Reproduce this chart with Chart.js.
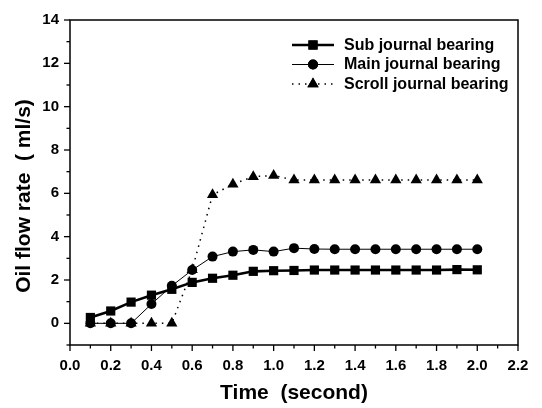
<!DOCTYPE html>
<html>
<head>
<meta charset="utf-8">
<script src="https://cdn.jsdelivr.net/npm/chart.js@4.4.0/dist/chart.umd.min.js"></script>
<style>
  html, body { margin: 0; padding: 0; background: #fff; }
  #wrap { width: 542px; height: 408px; position: relative; }
</style>
</head>
<body>
<div id="wrap"><canvas id="flowChart" width="542" height="408"></canvas></div>
<script>
/* ===== DATA ===== */
const timeValues = [0.1, 0.2, 0.3, 0.4, 0.5, 0.6, 0.7, 0.8, 0.9, 1.0, 1.1, 1.2, 1.3, 1.4, 1.5, 1.6, 1.7, 1.8, 1.9, 2.0];
const subBearing = [0.27, 0.57, 0.98, 1.30, 1.57, 1.89, 2.08, 2.22, 2.40, 2.43, 2.44, 2.46, 2.46, 2.46, 2.46, 2.46, 2.46, 2.46, 2.48, 2.47];
const mainBearing = [0, 0, 0, 0.89, 1.73, 2.46, 3.08, 3.31, 3.39, 3.31, 3.47, 3.43, 3.42, 3.42, 3.42, 3.42, 3.42, 3.42, 3.42, 3.42];
const scrollBearing = [0, 0, 0, 0, 0, 2.47, 5.93, 6.42, 6.77, 6.82, 6.62, 6.62, 6.62, 6.62, 6.62, 6.62, 6.62, 6.62, 6.62, 6.62];
const seriesNames = ['Sub journal bearing', 'Main journal bearing', 'Scroll journal bearing'];
const xTickLabels = ['0.0', '0.2', '0.4', '0.6', '0.8', '1.0', '1.2', '1.4', '1.6', '1.8', '2.0', '2.2'];
const yTickLabels = ['0', '2', '4', '6', '8', '10', '12', '14'];
const xTitle = 'Time  (second)';
const yTitle = 'Oil flow rate  ( ml/s)';

const FONT = '"Liberation Sans", Arial, sans-serif';

function toPoints(ys) {
    return timeValues.map((t, i) => ({ x: t, y: ys[i] }));
}

/* ===== PLUGIN: frame, ticks, titles, legend ===== */
const framePlugin = {
    id: 'frame',
    afterDraw(chart) {
        const ctx = chart.ctx;
        const a = chart.chartArea;
        const xs = chart.scales.x;
        const ys = chart.scales.y;
        ctx.save();
        ctx.strokeStyle = '#000';
        ctx.lineWidth = 1.5;
        ctx.strokeRect(a.left, a.top, a.right - a.left, a.bottom - a.top);

        // x ticks (outside, below)
        ctx.lineWidth = 1.3;
        for (let i = 0; i <= 22; i++) {
            const px = xs.getPixelForValue(i / 10);
            const len = i % 2 === 0 ? 6 : 3.5;
            ctx.beginPath();
            ctx.moveTo(px, a.bottom);
            ctx.lineTo(px, a.bottom + len);
            ctx.stroke();
        }
        // y ticks (outside, left)
        for (let v = -1; v <= 14; v++) {
            const py = ys.getPixelForValue(v);
            const len = v % 2 === 0 ? 6 : 3.5;
            ctx.beginPath();
            ctx.moveTo(a.left, py);
            ctx.lineTo(a.left - len, py);
            ctx.stroke();
        }

        // axis titles
        ctx.fillStyle = '#000';
        ctx.font = 'bold 21px ' + FONT;
        ctx.textAlign = 'center';
        ctx.textBaseline = 'middle';
        ctx.fillText(xTitle, (a.left + a.right) / 2, 393);
        ctx.save();
        ctx.translate(24, 196);
        ctx.rotate(-Math.PI / 2);
        ctx.fillText(yTitle, 0, 0);
        ctx.restore();

        // legend
        const lx = 292;
        const lw = 42;
        const ly0 = 45;
        ctx.font = 'bold 16px ' + FONT;
        ctx.textAlign = 'left';
        ctx.textBaseline = 'middle';
        chart.data.datasets.forEach((ds, i) => {
            const y = ly0 + i * 19.5;
            ctx.save();
            ctx.strokeStyle = '#000';
            ctx.lineWidth = ds.borderWidth;
            ctx.setLineDash(ds.borderDash || []);
            ctx.beginPath();
            ctx.moveTo(lx, y);
            ctx.lineTo(lx + lw, y);
            ctx.stroke();
            ctx.restore();
            ctx.fillStyle = '#000';
            Chart.helpers.drawPoint(ctx, {
                pointStyle: ds.pointStyle,
                radius: ds.pointRadius,
                rotation: 0,
                borderWidth: 0
            }, lx + lw / 2, y);
            ctx.fill();
            ctx.fillText(ds.label, lx + lw + 10, y + 0.5);
        });
        ctx.restore();
    }
};

/* ===== CHART ===== */
document.addEventListener('DOMContentLoaded', function() {
    const ctx = document.getElementById('flowChart');
    new Chart(ctx.getContext('2d'), {
        type: 'line',
        data: {
            datasets: [
                {
                    label: seriesNames[0],
                    data: toPoints(subBearing),
                    borderColor: '#000',
                    backgroundColor: '#000',
                    borderWidth: 2.6,
                    pointStyle: 'rect',
                    pointRadius: 6.5,
                    pointBorderWidth: 0,
                    tension: 0
                },
                {
                    label: seriesNames[1],
                    data: toPoints(mainBearing),
                    borderColor: '#000',
                    backgroundColor: '#000',
                    borderWidth: 1,
                    pointStyle: 'circle',
                    pointRadius: 5,
                    pointBorderWidth: 0,
                    tension: 0
                },
                {
                    label: seriesNames[2],
                    data: toPoints(scrollBearing),
                    borderColor: '#000',
                    backgroundColor: '#000',
                    borderWidth: 1.5,
                    borderDash: [1.5, 5],
                    pointStyle: 'triangle',
                    pointRadius: 6.5,
                    pointBorderWidth: 0,
                    tension: 0
                }
            ]
        },
        options: {
            responsive: false,
            animation: false,
            layout: { padding: { top: 17, right: 24, left: 0, bottom: 0 } },
            plugins: {
                legend: { display: false },
                tooltip: { enabled: false }
            },
            scales: {
                x: {
                    type: 'linear',
                    min: 0,
                    max: 2.2,
                    afterFit(scale) { scale.height = 63; },
                    afterBuildTicks(scale) {
                        scale.ticks = xTickLabels.map(l => ({ value: parseFloat(l) }));
                    },
                    grid: { display: false, drawTicks: false },
                    border: { display: false },
                    ticks: {
                        padding: 12,
                        color: '#000',
                        font: { family: FONT, size: 15, weight: 'bold' },
                        maxRotation: 0,
                        callback: v => xTickLabels.find(l => Math.abs(parseFloat(l) - v) < 1e-6) || ''
                    }
                },
                y: {
                    type: 'linear',
                    min: -1,
                    max: 14,
                    afterFit(scale) { scale.width = 70; },
                    afterBuildTicks(scale) {
                        scale.ticks = yTickLabels.map(l => ({ value: parseFloat(l) }));
                    },
                    grid: { display: false, drawTicks: false },
                    border: { display: false },
                    ticks: {
                        padding: 11,
                        color: '#000',
                        font: { family: FONT, size: 15, weight: 'bold' },
                        callback: v => String(v)
                    }
                }
            }
        },
        plugins: [framePlugin]
    });
});
</script>
</body>
</html>
